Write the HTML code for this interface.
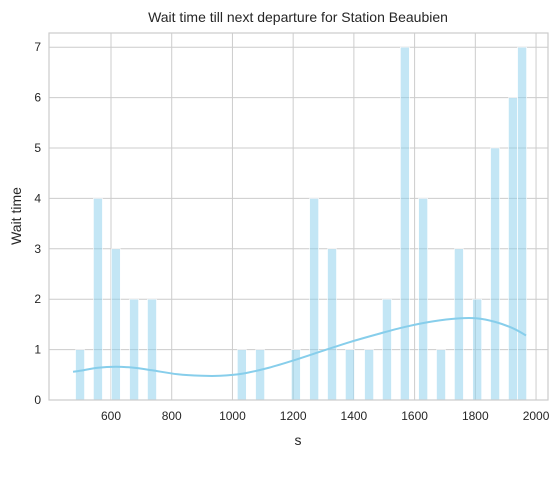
<!DOCTYPE html>
<html><head><meta charset="utf-8"><style>
body{margin:0;background:#fff;font-family:"Liberation Sans","DejaVu Sans",sans-serif}
</style></head><body>
<svg id="c" width="558" height="457" xmlns="http://www.w3.org/2000/svg"></svg>
<script>
const binCenters=[498,557,616,676,735,1031,1091,1209,1269,1328,1387,1450,1509,1568,1628,1687,1746,1806,1865,1924,1954];
const counts=[1,4,3,2,2,1,1,1,4,3,1,1,2,7,4,1,3,2,5,6,7];
const kdeX=[475,498,557,616,676,735,820,900,960,1031,1120,1209,1300,1387,1480,1568,1660,1746,1806,1865,1925,1967];
const kdeY=[0.56,0.58,0.64,0.66,0.64,0.59,0.51,0.48,0.48,0.52,0.64,0.8,0.98,1.15,1.31,1.45,1.56,1.62,1.62,1.55,1.42,1.28];
const xTicks=[600,800,1000,1200,1400,1600,1800,2000];
const yTicks=[0,1,2,3,4,5,6,7];
const L=49,R=548,T=33,B=400;
const sx=v=>111+(v-600)*0.3036;
const sy=v=>400-v*50.4;
const svg=document.getElementById('c');
const NS='http://www.w3.org/2000/svg';
function mk(t,a,p){const e=document.createElementNS(NS,t);for(const k in a)e.setAttribute(k,a[k]);(p||svg).appendChild(e);return e;}
for(const t of xTicks){
 const l=mk('line',{x1:sx(t),x2:sx(t),y1:T,y2:B,stroke:'#cccccc','stroke-width':1});
 
 
 const tx=mk('text',{x:sx(t),y:B+20,'text-anchor':'middle','font-size':12,fill:'#262626'});
 tx.textContent=t;
 
 
}
for(const t of yTicks){
 const l=mk('line',{x1:L,x2:R,y1:sy(t),y2:sy(t),stroke:'#cccccc','stroke-width':1});
 
 
 const tx=mk('text',{x:L-8,y:sy(t)+4,'text-anchor':'end','font-size':12,fill:'#262626'});
 tx.textContent=t;
 
 
}
const bw=29.6*0.3036;
binCenters.forEach((c,i)=>{
 const r=mk('rect',{x:sx(c)-bw/2,y:sy(counts[i]),width:bw,height:sy(0)-sy(counts[i]),fill:'#87ceeb','fill-opacity':0.5,stroke:'#ffffff','stroke-width':0.6});
 
 
});
let pts=kdeX.map((x,i)=>[sx(x),sy(kdeY[i])]);
let d='M'+pts[0][0]+','+pts[0][1];
for(let i=0;i<pts.length-1;i++){
 const p0=pts[i-1]||pts[i],p1=pts[i],p2=pts[i+1],p3=pts[i+2]||p2;
 d+=' C'+(p1[0]+(p2[0]-p0[0])/6)+','+(p1[1]+(p2[1]-p0[1])/6)+' '+(p2[0]-(p3[0]-p1[0])/6)+','+(p2[1]-(p3[1]-p1[1])/6)+' '+p2[0]+','+p2[1];
}
const k=mk('path',{d:d,fill:'none',stroke:'#87ceeb','stroke-width':2});


const f=mk('rect',{x:L,y:T,width:R-L,height:B-T,fill:'none',stroke:'#cccccc','stroke-width':1.2});


</script>
<svg width="0" height="0"></svg>
<div style="position:absolute;left:0;top:0;width:558px;height:457px;pointer-events:none">
<svg width="558" height="457" xmlns="http://www.w3.org/2000/svg">
<text x="298" y="22" text-anchor="middle" font-size="14" fill="#262626">Wait time till next departure for Station Beaubien</text>
<text x="298" y="445" text-anchor="middle" font-size="14" fill="#262626">s</text>
<text x="21" y="216" text-anchor="middle" font-size="14" fill="#262626" transform="rotate(-90 21 216)">Wait time</text>
</svg></div>
</body></html>
